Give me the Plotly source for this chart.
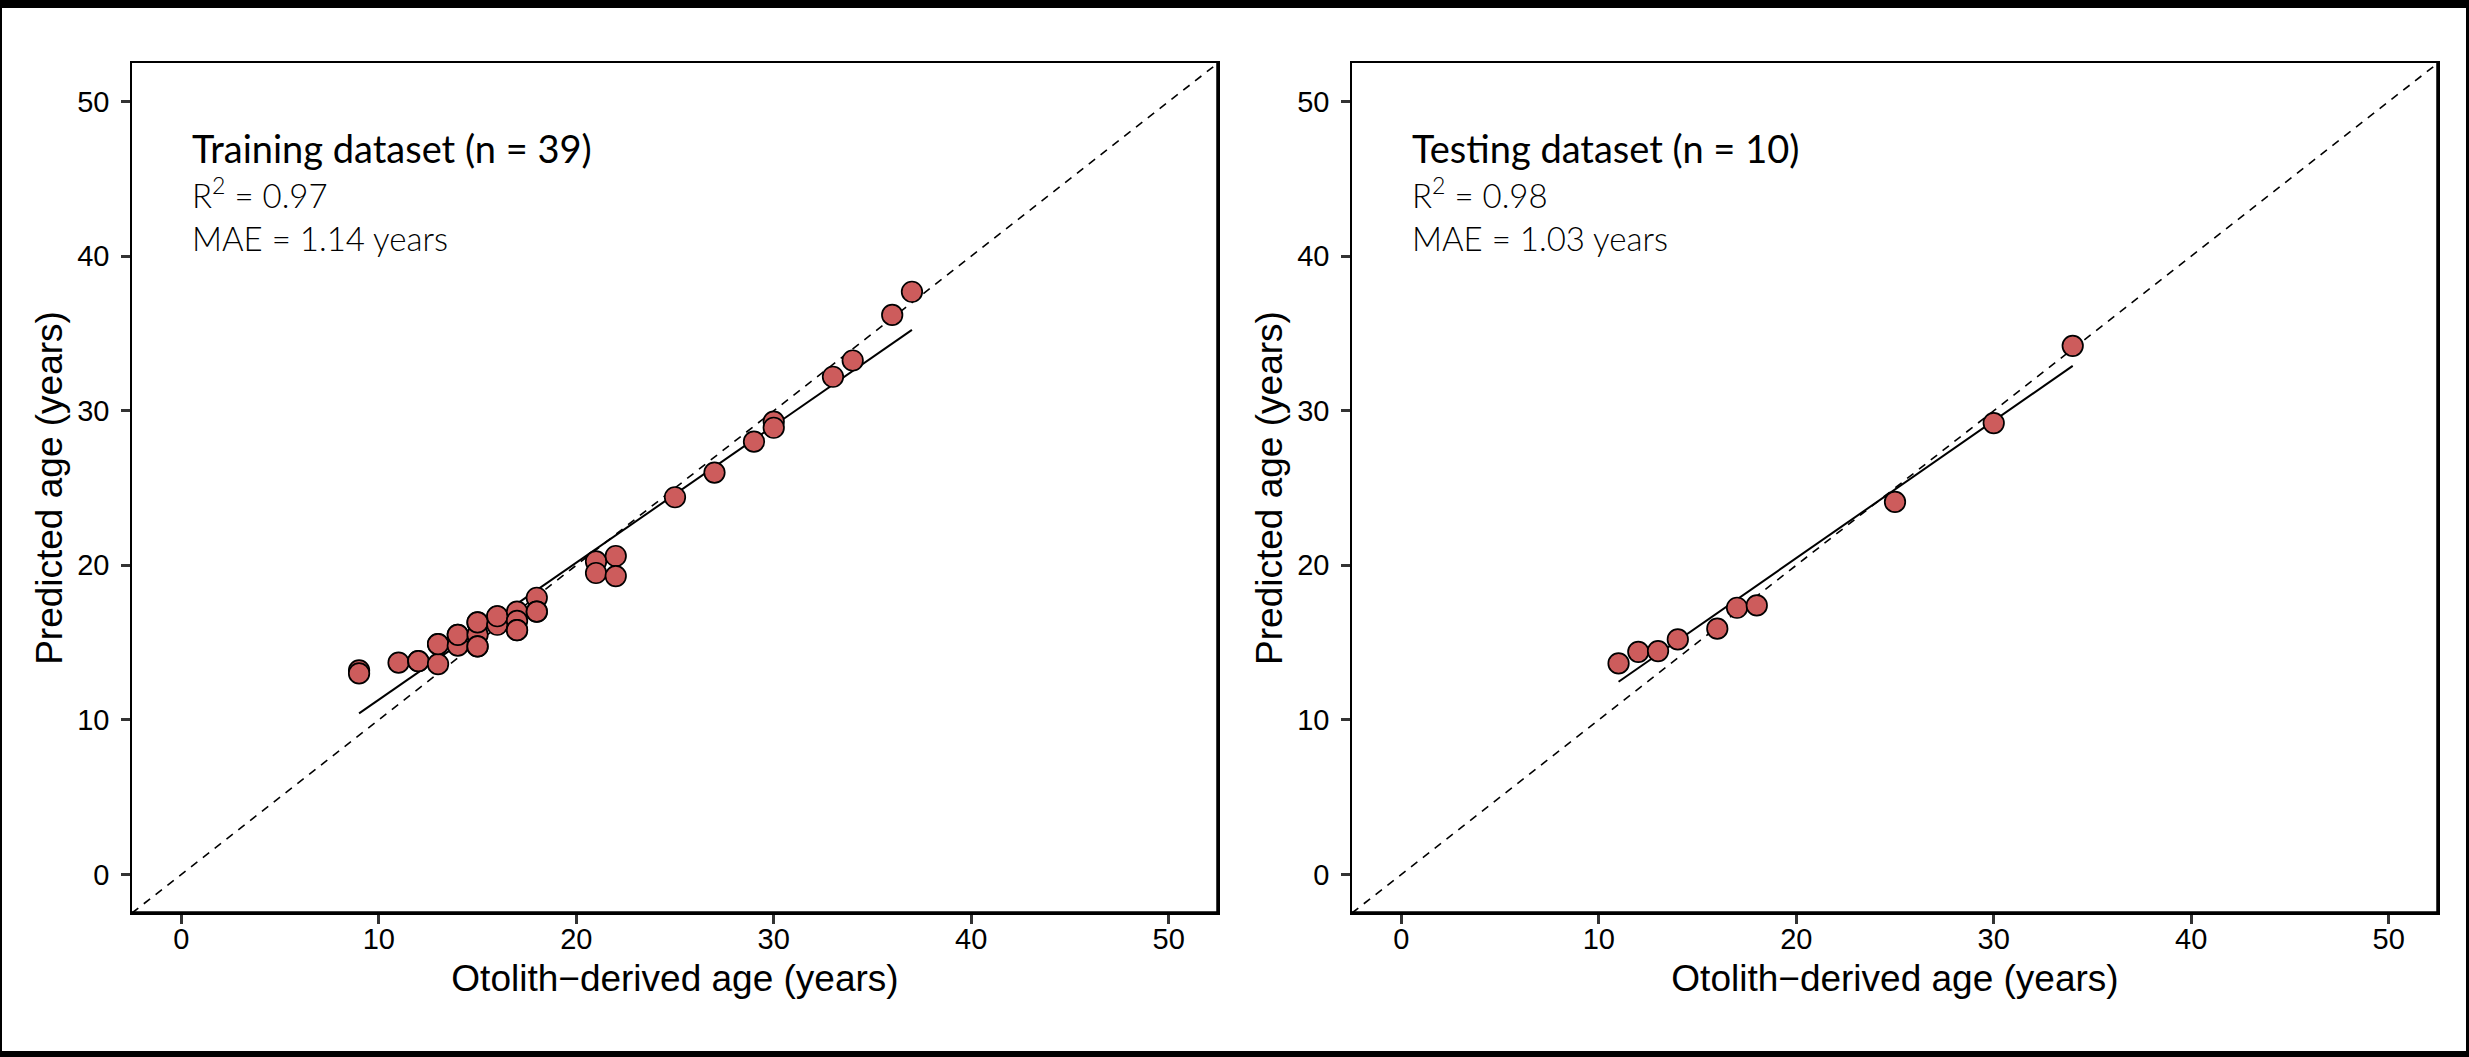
import numpy as np
import plotly.graph_objects as go

# ---------------- data ----------------
train_otolith = [9, 9, 11, 12, 12, 13, 13, 13, 14, 14, 14, 15, 15, 15, 15, 15,
                 16, 16, 16, 17, 17, 17, 17, 18, 18, 18, 21, 21, 22, 22,
                 25, 27, 29, 30, 30, 33, 34, 36, 37]
train_pred = [13.2, 13.0, 13.7, 13.8, 13.8, 14.9, 13.6, 14.9, 15.5, 14.8, 15.5,
              16.3, 15.5, 14.75, 16.3, 14.75, 16.7, 16.15, 16.7, 17.0, 16.4, 15.8, 15.8,
              17.9, 17.0, 17.0, 20.25, 19.5, 20.6, 19.3,
              24.4, 26.0, 28.0, 29.3, 28.9, 32.2, 33.25, 36.2, 37.7]

test_otolith = [11, 12, 13, 14, 16, 17, 18, 25, 30, 34]
test_pred = [13.65, 14.4, 14.45, 15.2, 15.9, 17.25, 17.4, 24.1, 29.2, 34.2]

panel_titles = ["Training dataset (n = 39)", "Testing dataset (n = 10)"]
panel_r2 = ["0.97", "0.98"]
panel_mae = ["1.14", "1.03"]

tick_vals = [0, 10, 20, 30, 40, 50]
axis_range = [-2.5, 52.5]
x_title = "Otolith\u2212derived age (years)"
y_title = "Predicted age (years)"

# ---------------- layout constants ----------------
W, H = 2469, 1057
x_domains = [[132 / W, 1218 / W], [1352 / W, 2438 / W]]
y_domain = [1 - 913 / H, 1 - 63 / H]

fig = go.Figure()

datasets = [(train_otolith, train_pred), (test_otolith, test_pred)]
for i, (xs, ys) in enumerate(datasets):
    xa = "x" if i == 0 else "x2"
    ya = "y" if i == 0 else "y2"
    xs_a = np.array(xs, dtype=float)
    ys_a = np.array(ys, dtype=float)
    slope, intercept = np.polyfit(xs_a, ys_a, 1)
    fx = np.array([xs_a.min(), xs_a.max()])
    fig.add_trace(go.Scatter(
        x=fx, y=slope * fx + intercept, mode="lines",
        line=dict(color="black", width=2), xaxis=xa, yaxis=ya,
        showlegend=False, hoverinfo="skip"))
    fig.add_trace(go.Scatter(
        x=xs, y=ys, mode="markers",
        marker=dict(size=20.5, color="#CD5C5C",
                    line=dict(color="black", width=1.7)),
        xaxis=xa, yaxis=ya, showlegend=False))

tick_font = dict(family="Liberation Sans, Arial, sans-serif", size=29, color="black")
title_font = dict(family="Liberation Sans, Arial, sans-serif", size=37, color="black")

axis_common = dict(
    range=axis_range, tickvals=tick_vals, ticks="outside", ticklen=9,
    tickwidth=3, tickcolor="#333333", showline=True, linecolor="black",
    linewidth=1.5, mirror=True, showgrid=False, zeroline=False,
    tickfont=tick_font,
)

for i in range(2):
    sfx = "" if i == 0 else "2"
    fig.layout["xaxis" + sfx] = dict(
        axis_common, domain=x_domains[i], anchor="y" + sfx, ticklabelstandoff=-10,
        title=dict(text=x_title, font=title_font, standoff=12))
    fig.layout["yaxis" + sfx] = dict(
        axis_common, domain=y_domain, anchor="x" + sfx, ticklabelstandoff=6,
        title=dict(text=y_title, font=title_font, standoff=3))

shapes = []
for i in range(2):
    sfx = "" if i == 0 else "2"
    xr, yr = "x" + sfx + " domain", "y" + sfx + " domain"
    # 1:1 reference line (axes share the same range)
    shapes.append(dict(type="line", xref=xr, yref=yr, x0=0, y0=0, x1=1, y1=1,
                       line=dict(color="black", width=1.6, dash="8px,7px"), layer="below"))
    # heavier bottom / right panel borders
    shapes.append(dict(type="line", xref=xr, yref=yr, x0=0, y0=0, x1=1, y1=0,
                       line=dict(color="black", width=3.5)))
    shapes.append(dict(type="line", xref=xr, yref=yr, x0=1, y0=0, x1=1, y1=1,
                       line=dict(color="black", width=3.5)))

# outer frame of the image
shapes += [
    dict(type="rect", xref="paper", yref="paper", x0=0, x1=1, y0=1 - 8 / H, y1=1,
         fillcolor="black", line=dict(width=0)),
    dict(type="rect", xref="paper", yref="paper", x0=0, x1=1, y0=0, y1=6 / H,
         fillcolor="black", line=dict(width=0)),
    dict(type="rect", xref="paper", yref="paper", x0=0, x1=2 / W, y0=0, y1=1,
         fillcolor="black", line=dict(width=0)),
    dict(type="rect", xref="paper", yref="paper", x0=1 - 3 / W, x1=1, y0=0, y1=1,
         fillcolor="black", line=dict(width=0)),
]

annotations = []
for i in range(2):
    sfx = "" if i == 0 else "2"
    annotations.append(dict(
        xref="x" + sfx, yref="y" + sfx, x=0.5, y=47.0, xanchor="left", yanchor="middle",
        text=panel_titles[i], showarrow=False, borderpad=0,
        font=dict(family="Lato, Noto Sans, sans-serif", size=38, color="black")))
    annotations.append(dict(
        xref="x" + sfx, yref="y" + sfx, x=0.5, y=44.1, xanchor="left", yanchor="middle",
        text="R<sup>2</sup> = " + panel_r2[i], showarrow=False, borderpad=0,
        font=dict(family="Lato, Noto Sans, sans-serif", size=33, color="black", weight=300)))
    annotations.append(dict(
        xref="x" + sfx, yref="y" + sfx, x=0.5, y=41.2, xanchor="left", yanchor="middle",
        text="MAE = " + panel_mae[i] + " years", showarrow=False, borderpad=0,
        font=dict(family="Lato, Noto Sans, sans-serif", size=33, color="black", weight=300)))

fig.update_layout(
    width=W, height=H,
    margin=dict(l=0, r=0, t=0, b=0, autoexpand=False),
    paper_bgcolor="white", plot_bgcolor="white",
    shapes=shapes, annotations=annotations, showlegend=False,
)

fig.write_html("out.html")
